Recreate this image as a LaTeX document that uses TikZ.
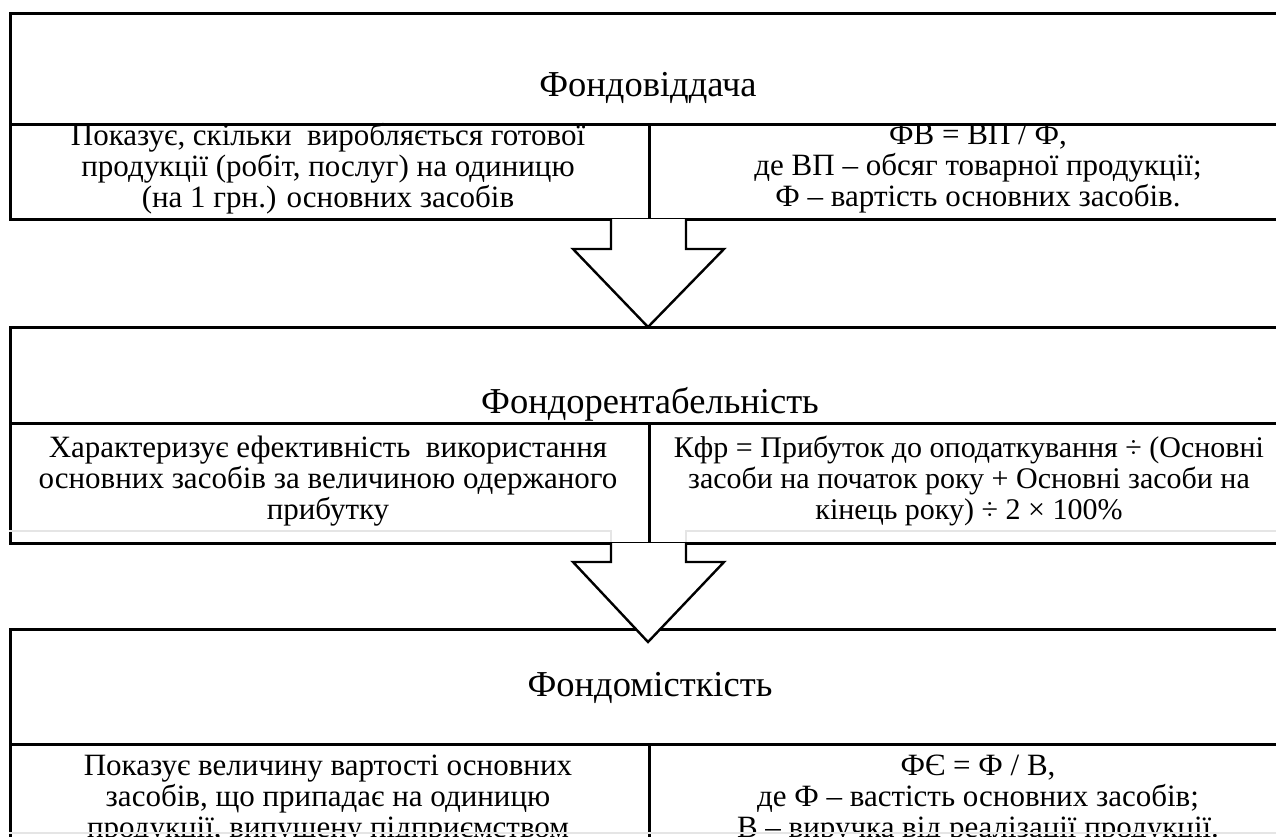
\documentclass[tikz,border=0pt]{standalone}
\usepackage{fontspec}
\setmainfont{Liberation Serif}
\begin{document}
\begin{tikzpicture}[x=1pt,y=-1pt,
  cell/.style={draw, line width=2.8pt, inner sep=0pt, anchor=north west},
  body/.style={font=\fontsize{31}{31}\selectfont, align=center, inner sep=0pt},
  ttl/.style={font=\fontsize{36.5}{38}\selectfont, inner sep=0pt},
  blockarrow/.style={line width=2.4pt, line join=miter},
  faint/.style={draw=black!10, line width=1.5pt}]
\useasboundingbox (0,0) rectangle (1276,836);
\clip (0,0) rectangle (1276,836);
% ---------- box 1
\node[cell, minimum width=1299pt, minimum height=111pt] (t1) at (9,12) {};
\node[cell, minimum width=639pt, minimum height=95pt] (l1) at (9,123) {};
\node[cell, minimum width=660pt, minimum height=95pt] (r1) at (648,123) {};
\node[ttl] (t1txt) at (648,88) {Фондовіддача};
\node[body] (l1txt) at (328,169) {Показує, скільки\ \ виробляється готової\\продукції (робіт, послуг) на одиницю\\(на 1 грн.) основних засобів};
\node[body] (r1txt) at (978,169) {ФВ = ВП / Ф,\\де ВП – обсяг товарної продукції;\\Ф – вартість основних засобів.};
% ---------- box 2
\node[cell, minimum width=1299pt, minimum height=96pt] (t2) at (9,326) {};
\node[cell, minimum width=639pt, minimum height=120pt] (l2) at (9,422) {};
\node[cell, minimum width=660pt, minimum height=120pt] (r2) at (648,422) {};
\draw[faint] (9,531) -- (611,531) -- (611,542);
\draw[faint] (686,542) -- (686,531) -- (1308,531);
\node[ttl] (t2txt) at (650,404) {Фондорентабельність};
\node[body] (l2txt) at (328,481) {Характеризує ефективність\ \ використання\\основних засобів за величиною одержаного\\прибутку};
\node[body, font=\fontsize{30}{31}\selectfont] (r2txt) at (969,481) {Кфр = Прибуток до оподаткування ÷ (Основні\\засоби на початок року + Основні засоби на\\кінець року) ÷ 2 × 100\%};
% ---------- box 3
\node[cell, minimum width=1299pt, minimum height=115pt] (t3) at (9,628) {};
\node[cell, minimum width=639pt, minimum height=200pt] (l3) at (9,743) {};
\node[cell, minimum width=660pt, minimum height=200pt] (r3) at (648,743) {};
\node[ttl] (t3txt) at (650,688) {Фондомісткість};
\node[body] (l3txt) at (328,800) {Показує величину\ вартості основних\\засобів, що припадає на одиницю\\продукції, випущену підприємством};
\node[body] (r3txt) at (978,800) {ФЄ = Ф / В,\\де Ф – вастість основних засобів;\\В – виручка від реалізації продукції.};
\draw[faint] (9,833) -- (1308,833);
% ---------- arrows
\fill[white] (611,219) -- (611,249) -- (573,249) -- (648,327) -- (724,249) -- (686,249) -- (686,219) -- cycle;
\draw[blockarrow] (611,219) -- (611,249) -- (573,249) -- (648,327) -- (724,249) -- (686,249) -- (686,219);
\fill[white] (611,543) -- (611,562) -- (573,562) -- (648,642) -- (724,562) -- (686,562) -- (686,543) -- cycle;
\draw[blockarrow] (611,543) -- (611,562) -- (573,562) -- (648,642) -- (724,562) -- (686,562) -- (686,543);
\end{tikzpicture}
\end{document}
